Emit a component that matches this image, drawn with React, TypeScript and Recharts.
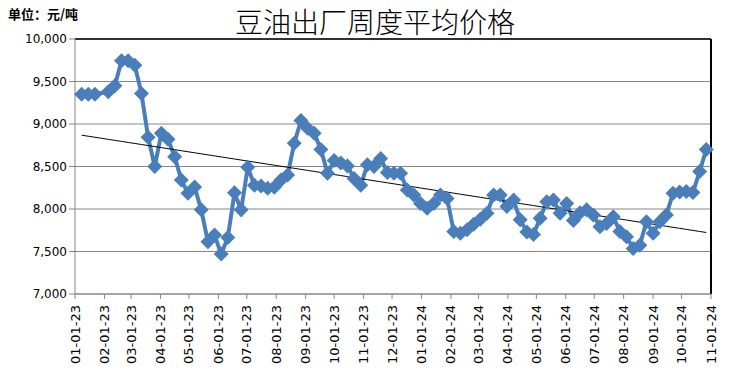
import { ComposedChart, XAxis, YAxis, CartesianGrid, Line, ReferenceLine } from 'recharts'

const monthLabels = [
  '01-01-23', '02-01-23', '03-01-23', '04-01-23', '05-01-23', '06-01-23', '07-01-23', '08-01-23',
  '09-01-23', '10-01-23', '11-01-23', '12-01-23', '01-01-24', '02-01-24', '03-01-24', '04-01-24',
  '05-01-24', '06-01-24', '07-01-24', '08-01-24', '09-01-24', '10-01-24', '11-01-24',
]

const yTicks = [7000, 7500, 8000, 8500, 9000, 9500, 10000]

// first weekly observation; one value per week after that (null = no quote that week)
const firstWeek = '2023-01-08'

const prices = [
  9350, 9350, 9350, null, 9380, 9450, 9745, 9745, 9690, 9360,
  8845, 8500, 8890, 8820, 8615, 8340, 8185, 8260, 7990, 7615,
  7695, 7470, 7665, 8190, 7990, 8490, 8280, 8270, 8245, 8255,
  8340, 8400, 8775, 9040, 8950, 8890, 8700, 8420, 8570, 8540,
  8505, 8360, 8280, 8520, 8500, 8595, 8430, 8420, 8420, 8225,
  8165, 8065, 8010, 8065, 8165, 8125, 7735, 7715, 7755, 7820,
  7880, 7950, 8165, 8165, 8030, 8105, 7875, 7730, 7700, 7890,
  8085, 8105, 7950, 8065, 7865, 7955, 7990, 7930, 7790, 7830,
  7910, 7735, 7675, 7535, 7575, 7850, 7715, 7850, 7930, 8185,
  8200, 8205, 8195, 8440, 8700,
]

const DAY = 86400000
const origin = Date.UTC(2023, 0, 1)
const dayOf = (y: number, m: number, d: number) => (Date.UTC(y, m - 1, d) - origin) / DAY

const monthTicks = monthLabels.map((s) => {
  const [mm, , yy] = s.split('-').map(Number)
  return dayOf(2000 + yy, mm, 1)
})
const tickLabel: Record<number, string> = {}
monthTicks.forEach((d, i) => (tickLabel[d] = monthLabels[i]))

const [fy, fm, fd] = firstWeek.split('-').map(Number)
const startDay = dayOf(fy, fm, fd)

const rows = prices.map((p, i) => ({ day: startDay + i * 7, price: p }))

// linear trendline (least squares) like the spreadsheet one
const pts = rows.filter((r) => r.price != null) as { day: number; price: number }[]
const n = pts.length
const mx = pts.reduce((s, r) => s + r.day, 0) / n
const my = pts.reduce((s, r) => s + r.price, 0) / n
const slope =
  pts.reduce((s, r) => s + (r.day - mx) * (r.price - my), 0) /
  pts.reduce((s, r) => s + (r.day - mx) * (r.day - mx), 0)
const chartData = rows.map((r) => ({ ...r, trend: my + slope * (r.day - mx) }))

const BLUE = '#4a7ebb'
const GRID = '#868686'

const Diamond = (props: any) => {
  const { cx, cy, index } = props
  if (cx == null || cy == null || props.value == null) return <g key={`d-${index}`} />
  const r = 7.5
  return (
    <polygon
      key={`d-${index}`}
      points={`${cx},${cy - r} ${cx + r},${cy} ${cx},${cy + r} ${cx - r},${cy}`}
      fill={BLUE}
    />
  )
}

const MonthTick = (props: any) => {
  const { x, y, payload } = props
  return (
    <text
      x={x}
      y={y}
      transform={`rotate(-90, ${x}, ${y})`}
      dx={-4}
      dy={4.5}
      textAnchor="end"
      fontSize={13}
      fontFamily="DejaVu Sans"
      fill="#000"
    >
      {tickLabel[payload.value]}
    </text>
  )
}

export default function App() {
  const last = monthTicks[monthTicks.length - 1]
  return (
    <div style={{ position: 'absolute', left: 0, top: 0, width: 750, height: 377, background: '#fff' }}>
      <div
        style={{
          position: 'absolute', left: 8, top: 4, fontSize: 13, fontWeight: 'bold',
          fontFamily: '"Noto Sans CJK SC", sans-serif', color: '#000',
        }}
      >
        单位：元/吨
      </div>
      <div
        style={{
          position: 'absolute', left: 0, width: 750, top: 1, textAlign: 'center', fontSize: 28,
          fontFamily: '"Noto Sans CJK SC", sans-serif', fontWeight: 300, color: '#000',
        }}
      >
        豆油出厂周度平均价格
      </div>
      <ComposedChart
        width={750}
        height={377}
        data={chartData}
        margin={{ top: 39, right: 39, bottom: 0, left: 0 }}
        style={{ position: 'absolute', left: 0, top: 0 }}
      >
        <CartesianGrid vertical={false} stroke={GRID} />
        <XAxis
          dataKey="day"
          type="number"
          domain={[0, last]}
          ticks={monthTicks}
          interval={0}
          tick={<MonthTick />}
          tickSize={5}
          axisLine={{ stroke: GRID }}
          tickLine={{ stroke: GRID }}
          height={83}
        />
        <YAxis
          type="number"
          domain={[7000, 10000]}
          ticks={yTicks}
          interval={0}
          width={75}
          tickSize={6}
          tickFormatter={(v: number) => v.toLocaleString('en-US')}
          tick={{ fontSize: 12, fontFamily: 'DejaVu Sans', fill: '#000' }}
          axisLine={{ stroke: GRID }}
          tickLine={{ stroke: GRID }}
        />
        <ReferenceLine y={10000} stroke="#000" strokeWidth={1.5} />
        <ReferenceLine x={last} stroke="#000" strokeWidth={2} />
        <Line
          dataKey="price"
          stroke={BLUE}
          strokeWidth={4}
          dot={<Diamond />}
          activeDot={false}
          connectNulls
          isAnimationActive={false}
        />
        <Line
          dataKey="trend"
          stroke="#000"
          strokeWidth={1}
          dot={false}
          activeDot={false}
          isAnimationActive={false}
        />
      </ComposedChart>
    </div>
  )
}
